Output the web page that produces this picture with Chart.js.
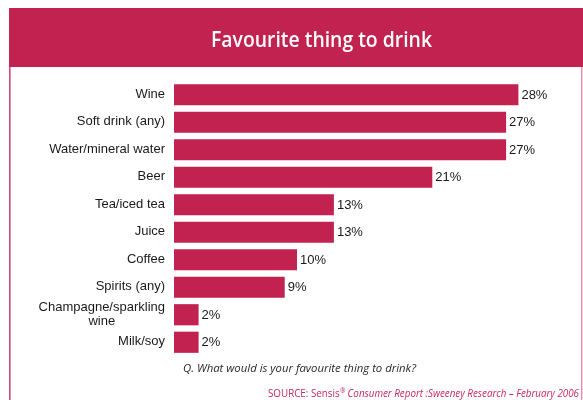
<!DOCTYPE html>
<html>
<head>
<meta charset="utf-8">
<title>Favourite thing to drink</title>
<script src="https://cdn.jsdelivr.net/npm/chart.js@4/dist/chart.umd.min.js"></script>
<style>
  html, body { margin: 0; padding: 0; background: #ffffff; }
  #wrap { width: 583px; height: 400px; position: relative; }
</style>
</head>
<body>
<div id="wrap"><canvas id="drinks"></canvas></div>
<script>
// Survey answers: favourite thing to drink (% of respondents)
const categories = [
  'Wine',
  'Soft drink (any)',
  'Water/mineral water',
  'Beer',
  'Tea/iced tea',
  'Juice',
  'Coffee',
  'Spirits (any)',
  ['Champagne/sparkling', 'wine'],
  'Milk/soy'
];
const shares = [28, 27, 27, 21, 13, 13, 10, 9, 2, 2];
const valueLabels = shares.map(v => v + '%');

const titleText = 'Favourite thing to drink';
const questionText = 'Q. What would is your favourite thing to drink?';
const sourceLead = 'SOURCE: Sensis';
const sourceMark = '\u00AE';
const sourceTail = ' Consumer Report :Sweeney Research \u2013 February 2006';

const CRIMSON = '#c1224f';
const TEXT = '#1a1a1a';
const LABEL_FONT = '13px "Liberation Sans", Arial, sans-serif';

// draws text squeezed/stretched horizontally to a given width
function fitText(ctx, text, x, y, width) {
  const w = ctx.measureText(text).width;
  ctx.save();
  ctx.translate(x, y);
  ctx.scale(width / w, 1);
  ctx.textAlign = 'left';
  ctx.fillText(text, 0, 0);
  ctx.restore();
}

const framePlugin = {
  id: 'frame',
  beforeDraw(chart) {
    const ctx = chart.ctx;
    ctx.save();
    ctx.fillStyle = '#ffffff';
    ctx.fillRect(0, 0, chart.width, chart.height);
    // side rules of the panel
    ctx.fillStyle = '#d24a78';
    ctx.fillRect(9, 8, 1.6, 392);
    ctx.fillStyle = '#e98cae';
    ctx.fillRect(581, 66, 1.4, 334);
    // title banner
    ctx.fillStyle = CRIMSON;
    ctx.fillRect(9, 8, 574, 59);
    ctx.fillStyle = '#ffffff';
    ctx.font = '600 22px "Open Sans", "DejaVu Sans Condensed", sans-serif';
    ctx.textBaseline = 'alphabetic';
    fitText(ctx, titleText, 211, 47, 221);
    ctx.restore();
  },
  afterDatasetsDraw(chart) {
    const ctx = chart.ctx;
    const yScale = chart.scales.y;
    const meta = chart.getDatasetMeta(0);
    const left = chart.chartArea.left;
    ctx.save();
    ctx.fillStyle = TEXT;
    ctx.font = LABEL_FONT;
    ctx.textBaseline = 'middle';
    categories.forEach((cat, i) => {
      const yc = yScale.getPixelForValue(i);
      const lines = Array.isArray(cat) ? cat : [cat];
      const lh = 14;
      const widths = lines.map(l => ctx.measureText(l).width);
      const blockW = Math.max(...widths);
      const right = left - 9;
      const center = right - blockW / 2;
      lines.forEach((l, j) => {
        const y = yc + (j - (lines.length - 1) / 2) * lh - 0.5;
        ctx.textAlign = 'center';
        ctx.fillText(l, center, y);
      });
      // value label after the bar end
      const bar = meta.data[i];
      ctx.textAlign = 'left';
      ctx.fillText(valueLabels[i], bar.x + 3, yc + 0.5);
    });

    // question line
    ctx.fillStyle = '#2a2a2a';
    ctx.font = 'italic 11.5px "Open Sans", "DejaVu Sans", sans-serif';
    ctx.textBaseline = 'middle';
    fitText(ctx, questionText, 183, 369, 233);

    // source line in crimson, part upright and part italic
    ctx.fillStyle = '#c8285a';
    ctx.textBaseline = 'middle';
    const fLead = '10.5px "Open Sans", "DejaVu Sans", sans-serif';
    const fMark = '7px "Open Sans", "DejaVu Sans", sans-serif';
    const fTail = 'italic 10.5px "Open Sans", "DejaVu Sans", sans-serif';
    ctx.font = fLead; const wLead = ctx.measureText(sourceLead).width;
    ctx.font = fMark; const wMark = ctx.measureText(sourceMark).width;
    ctx.font = fTail; const wTail = ctx.measureText(sourceTail).width;
    const total = wLead + wMark + wTail;
    const target = 311;
    const s = target / total;
    const x0 = 579 - target;
    ctx.save();
    ctx.translate(x0, 394);
    ctx.scale(s, 1);
    ctx.textAlign = 'left';
    ctx.font = fLead; ctx.fillText(sourceLead, 0, 0);
    ctx.font = fMark; ctx.fillText(sourceMark, wLead + 0.5, -3);
    ctx.font = fTail; ctx.fillText(sourceTail, wLead + wMark, 0);
    ctx.restore();
    ctx.restore();
  }
};

new Chart(document.getElementById('drinks'), {
  type: 'bar',
  data: {
    labels: categories,
    datasets: [{
      data: shares,
      backgroundColor: CRIMSON,
      borderWidth: 0,
      barPercentage: 0.77,
      categoryPercentage: 1.0
    }]
  },
  options: {
    indexAxis: 'y',
    responsive: true,
    maintainAspectRatio: false,
    animation: false,
    layout: { padding: { left: 174, right: 40, top: 81, bottom: 44 } },
    scales: {
      x: { display: false, min: 0, max: 30 },
      y: { display: false }
    },
    plugins: {
      legend: { display: false },
      tooltip: { enabled: false },
      title: { display: false }
    }
  },
  plugins: [framePlugin]
});
</script>
</body>
</html>
